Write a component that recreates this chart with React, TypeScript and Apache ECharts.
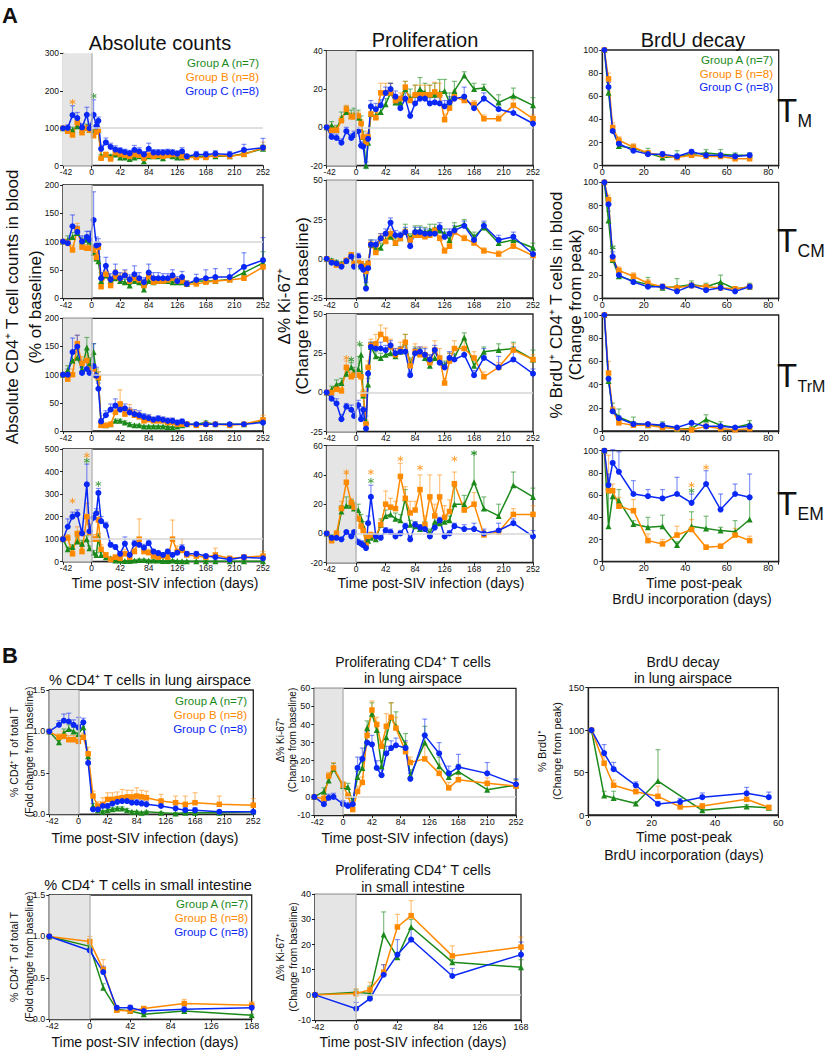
import React, { useEffect, useRef } from 'react';
import * as echarts from 'echarts';

// ---------- time points ----------
const daysCounts = [-42,-35,-28,-21,-14,-7,-3,3,7,10,14,21,28,35,42,49,56,63,70,77,84,91,98,105,112,119,126,133,140,154,168,182,203,224,252];
const daysProlif = [-42,-35,-28,-21,-14,-7,-3,3,7,10,14,17,21,28,35,42,49,56,63,70,77,84,91,98,105,112,119,126,133,140,154,168,182,203,224,252];
const daysBrdU = [1,3,5,8,15,22,29,36,43,50,57,64,71];
const daysLung = [-42,-28,-21,-14,-7,0,7,14,21,28,35,42,49,56,63,70,77,84,91,98,119,140,154,168,203,252];
const daysLungKi = [-42,-28,-21,-14,0,7,14,21,28,35,42,49,56,63,70,77,91,98,119,140,154,168,210,252];
const daysLungBrdU = [1,5,8,15,22,29,36,50,57];
const daysSI = [-42,0,14,28,42,56,98,168];

// ---------- A: absolute counts ----------
const cntTM_A = [100,98,95,105,95,103,95,90,100,95,25,30,25,30,22,22,18,22,25,12,25,25,25,20,28,25,22,22,25,25,25,25,25,32,45];
const cntTM_B = [100,92,82,115,88,100,95,80,90,95,20,30,18,35,30,28,25,30,28,20,28,25,28,25,28,30,30,25,22,22,22,28,25,30,48];
const cntTM_C = [100,101,135,127,102,136,100,136,105,120,45,62,50,43,40,36,33,42,38,30,45,35,35,35,36,35,32,38,25,30,30,32,30,42,48];
const cntTM_eA = [0,5,8,8,6,8,6,8,8,6,5,5,5,5,5,5,4,5,5,4,5,5,5,4,5,5,4,4,5,5,5,5,5,5,10];
const cntTM_eB = [0,8,8,10,8,8,8,10,8,8,5,5,5,8,6,6,5,6,6,5,6,6,5,5,5,6,6,5,4,5,5,8,5,6,15];
const cntTM_eC = [0,8,25,15,10,20,10,40,10,10,10,12,10,10,8,8,8,12,10,8,15,8,8,8,8,8,8,10,5,8,8,8,8,15,25];
const cntTM_stars = [[-28,170,1],[3,186,0]];

const cntCM_A = [100,102,108,115,100,103,100,80,70,65,30,40,30,35,30,28,22,30,28,15,30,28,30,30,30,28,28,28,25,30,30,30,33,45,62];
const cntCM_B = [100,98,85,122,90,88,88,85,72,90,20,42,22,38,35,40,30,35,32,22,38,28,30,30,32,35,30,30,25,25,28,30,32,35,55];
const cntCM_C = [100,97,127,117,100,108,103,138,93,95,35,57,33,45,35,40,33,42,35,28,45,35,35,35,35,40,30,37,25,32,35,37,37,55,67];
const cntCM_eA = [0,8,8,8,6,8,6,10,8,8,5,6,5,6,5,5,4,5,5,4,5,5,5,5,5,5,5,5,5,5,5,5,5,8,20];
const cntCM_eB = [0,6,8,10,8,6,6,8,8,8,5,8,5,12,8,8,6,8,6,5,8,6,6,6,6,6,6,6,5,5,5,6,6,6,8];
const cntCM_eC = [0,6,20,10,10,10,15,50,15,10,10,15,10,15,10,10,8,15,10,8,15,10,10,8,8,10,8,10,5,10,15,15,15,25,40];

const cntTrM_A = [100,108,125,130,110,148,120,140,100,95,12,10,12,18,18,15,12,10,10,8,8,8,8,8,7,6,8,10,12,12,15,12,12,12,18];
const cntTrM_B = [100,92,100,155,120,125,110,110,98,95,10,10,12,33,48,30,35,28,25,18,20,18,18,18,15,15,12,12,12,10,12,12,10,12,20];
const cntTrM_C = [100,100,140,150,103,110,103,115,98,75,17,28,38,45,38,40,33,30,28,25,23,20,22,20,18,18,15,17,12,12,12,12,12,12,15];
const cntTrM_eA = [0,8,15,15,10,18,10,15,10,10,3,3,3,3,3,3,3,2,2,2,2,2,2,2,2,2,2,2,3,3,3,3,3,3,4];
const cntTrM_eB = [0,8,10,15,12,10,10,10,10,10,3,3,3,8,25,10,12,8,8,6,8,6,6,6,5,6,4,5,4,3,3,3,3,3,8];
const cntTrM_eC = [0,10,25,20,10,15,10,40,15,10,5,8,10,12,10,8,8,8,8,6,6,5,5,5,5,5,4,4,3,3,3,3,3,3,5];

const cntEM_A = [100,55,65,90,80,100,60,40,30,110,30,20,15,5,5,3,3,5,8,8,5,5,5,3,3,5,3,2,2,2,2,2,2,2,2];
const cntEM_B = [100,105,35,125,45,200,130,100,100,185,55,30,10,20,15,35,20,45,100,45,40,25,20,25,20,100,45,50,30,25,20,30,15,20,25];
const cntEM_C = [100,155,200,210,125,343,135,195,215,305,180,160,75,65,35,80,30,80,75,62,82,45,38,30,45,30,40,60,35,35,25,20,10,20,15];
const cntEM_eA = [0,10,10,20,15,15,10,10,10,15,10,5,5,3,3,2,2,3,4,4,3,3,3,2,2,3,2,2,2,2,2,2,2,2,2];
const cntEM_eB = [0,15,10,30,25,60,40,20,20,40,20,10,5,10,5,20,10,15,90,20,15,10,10,10,10,85,25,50,15,10,10,30,8,10,20];
const cntEM_eC = [0,35,20,20,15,90,30,20,20,20,20,15,10,10,10,30,10,15,15,15,15,10,10,10,10,10,10,15,10,10,8,8,5,8,8];
const cntEM_stars = [[-28,270,1],[-7,472,1],[-7,448,0],[10,345,0]];

// ---------- A: proliferation ----------
const kiTM_A = [0,1,-1,5,8,6,6,5,3,-5,-20,-8,7,6,8,12,18,13,13,20,15,17,20,18,17,17,18,19,13,19,27,20,20.5,13,16.5,11.5];
const kiTM_B = [0,-1.5,-1.5,3.5,9.5,5.5,5.5,6,2,-5,-8,-5,7,5,18,18,18,14,15,21,14,17,17,17,17,18.5,17,4,10,16,14,12,4.5,4.5,11.5,4.5];
const kiTM_C = [0,-5,-5.5,-8,-2,-5.5,-4,-2,-9.5,-10,-22,-6,11,9.5,11.5,18,20,16,10,15,6,12.5,15,15,12.5,13,12.5,11,13,15,16,10,15,9.5,7.5,2];
const kiTM_eA = [0,2,2,3,3,3,4,4,3,3,2,3,3,3,3,3,5,3,3,4,5,5,6,5,5,6,7,6,5,5,2,3,2,4,4,4];
const kiTM_eB = [0,2,2,2,2,2,2,2,2,2,2,3,3,3,5,5,5,3,3,3,3,5,5,5,5,5,6,3,3,3,2,2,2,2,3,2];
const kiTM_eC = [0,2,2,2,2,2,2,2,2,2,2,3,3,3,3,3,3,3,2,3,2,3,3,3,3,3,3,3,3,3,5,3,3,3,3,3];

const kiCM_A = [0,-1,-2,-3,-1,2,-3,-1,-5,-4,-17,-4,9,6,7,12,14,10,13,18,13,18,18,17,18,19,18,16,12,20,22,14,20,10,12,7];
const kiCM_B = [0,-2,-4,-4,-1,2.5,-3,-1,-3,-5,-8,-3,9,4,13,11,16,10,13,17,12,15,15,14,15,18,13,5,8,17,13,10,5,3,8,2];
const kiCM_C = [0,-2.5,-3,-5,-1.5,1.5,-5,1.5,-5,-7,-19,-6,9,9,13,16,23,15,15,17,8,17,17,16,16,16,20,14,16,18,21,12,21,12,14,3];
const kiCM_eA = [0,1,1,1,1,2,1,1,1,1,2,2,3,3,3,3,3,3,3,4,3,3,3,3,4,3,3,3,3,3,3,3,3,3,3,3];
const kiCM_eB = [0,1,1,1,1,1,1,1,1,1,2,2,2,2,3,3,3,2,2,2,2,3,3,2,2,2,2,2,2,2,2,2,2,2,2,2];
const kiCM_eC = [0,1,1,1,1,1,1,2,1,1,1,2,3,3,3,3,3,3,2,3,2,3,3,3,3,3,3,3,3,3,3,3,3,3,3,3];

const kiTrM_A = [0,2,5,6,12,16,13,15,24,-2,-18,5,29,23,22,24,25,23,26,32,18,26,25,22,17,22,20,17,22,22,35,17,26,27,28,21];
const kiTrM_B = [0,0,2,1,16,10,11,11,10,-1,-20,16,30,31,37,34,29,24,27,32,17,26,24,24,19,27,22,6,20,28,28,22,10,16,27,21];
const kiTrM_C = [0,-4,-7,-17,-9,-11,-15,-8,-17,-11,-23,12,29,28,28,27,30,25,26,26,11,25,26,24,21,27,19,16,22,21,24,11,22,16,21,12];
const kiTrM_eA = [0,2,3,3,3,3,3,8,6,3,3,4,3,3,3,3,3,3,3,5,4,3,3,3,3,3,3,3,3,3,3,4,3,4,4,6];
const kiTrM_eB = [0,1,2,2,4,3,3,3,3,3,3,4,4,6,6,7,5,4,5,5,4,5,5,5,5,6,6,3,5,5,5,4,3,3,4,3];
const kiTrM_eC = [0,2,3,3,2,3,3,3,2,2,3,4,3,3,4,3,3,3,3,3,2,3,3,4,3,3,3,3,4,3,3,3,6,7,8,3];
const kiTrM_stars = [[-14,22,1],[-7,21,0],[5,31,0]];

const kiEM_A = [0,-3,-2,15,19,19,17,16,10,5,-7,-5,-3,-4,6,12,13,10,9,24,6,5,3,5,0,8,7,8,9,20,20,35,17,12,33,25];
const kiEM_B = [0,-5,0,17,35,21,18,10,5,2,-8,-2,-1,-2,6,20,18,17,39,24,14,16,30,6,25,12,25,11,15,34,16,20,-1,1,13,13];
const kiEM_C = [0,-3,-3,-4,1,-2,1,-6,-7,-8,-10,7,25,-2,-3,2,1,-2,0,5,-4,6,4,3,-2,4,9,-2,0,5,3,3,0,2,7,-2];
const kiEM_eA = [0,2,2,4,6,4,4,4,3,3,2,2,2,2,4,4,4,4,4,6,3,3,3,3,3,3,3,3,3,12,6,20,8,8,9,6];
const kiEM_eB = [0,2,2,5,6,3,3,3,3,3,2,2,2,2,3,9,6,5,9,8,8,6,10,6,15,8,15,8,8,8,5,8,3,2,4,6];
const kiEM_eC = [0,1,1,1,1,1,1,2,2,2,2,5,8,2,2,2,2,2,2,2,2,2,2,2,2,2,2,2,2,2,3,4,3,5,3,4];
const kiEM_stars = [[-14,42,1],[21,36,0],[21,42,1],[63,51,1],[91,45,1],[140,51,1],[168,55,0]];

// ---------- A: BrdU decay ----------
const brTM_A = [100,63,31,17,15,11,7,8,10,11,10,9,9];
const brTM_B = [100,75,33,22,16,11,9,7,9,8,8,6,6];
const brTM_C = [100,68,30,19,13,10,10,8,12,9,9,8,9];
const brTM_eA = [0,5,3,3,3,4,3,5,3,3,4,2,2];
const brTM_eB = [0,5,4,3,3,2,2,2,2,2,2,2,2];
const brTM_eC = [0,4,3,2,2,2,2,2,2,2,2,2,2];

const brCM_A = [100,67,33,19,15,12,9,10,12,10,14,8,10];
const brCM_B = [100,85,34,24,19,13,10,9,11,10,9,8,10];
const brCM_C = [100,81,36,20,14,10,10,6,11,7,9,6,10];
const brCM_eA = [0,8,10,3,3,6,3,7,3,3,6,2,3];
const brCM_eB = [0,4,3,3,3,3,2,2,2,2,2,2,2];
const brCM_eC = [0,3,4,2,2,2,2,2,2,2,2,2,2];
const brCM_stars = [[5,44,0]];

const brTrM_A = [100,43,18,12,7,5,5,2,2,10,5,3,6];
const brTrM_B = [100,50,18,7,5,5,3,2,1,4,2,1,2];
const brTrM_C = [100,45,17,11,6,6,5,3,7,4,4,3,4];
const brTrM_eA = [0,4,6,7,5,2,3,1,2,4,3,1,3];
const brTrM_eB = [0,10,3,2,2,1,1,1,1,1,1,1,1];
const brTrM_eC = [0,4,2,2,2,1,1,1,1,1,1,1,2];

const brEM_A = [100,32,59,55,34,31,32,15,32,30,28,27,38];
const brEM_B = [100,64,64,50,46,19,16,24,29,13,14,24,19];
const brEM_C = [100,69,89,81,61,59,57,61,53,70,47,61,58];
const brEM_eA = [0,30,6,10,3,9,10,3,13,11,3,10,20];
const brEM_eB = [0,32,6,8,10,6,4,8,9,2,1,6,4];
const brEM_eC = [0,10,12,18,12,6,8,15,8,12,14,9,21];
const brEM_stars = [[43,69,1],[43,64,0],[50,85,1]];

// ---------- B: lung airspace / small intestine ----------
const lung_A = [1.0,0.87,0.98,1.03,1.0,0.97,1.05,0.7,0.1,0.05,0.03,0.05,0.06,0.07,0.07,0.05,0.03,0.03,0.02,0.03,0.02,0.01,0.02,0.02,0.02,0.03];
const lung_B = [1.0,0.93,0.94,0.9,0.9,0.88,0.93,0.73,0.22,0.1,0.12,0.18,0.18,0.19,0.2,0.21,0.21,0.22,0.21,0.2,0.16,0.14,0.12,0.14,0.12,0.11];
const lung_C = [1.0,1.08,1.13,1.12,1.08,1.05,1.11,0.62,0.06,0.06,0.1,0.1,0.13,0.15,0.16,0.16,0.14,0.14,0.13,0.12,0.1,0.07,0.05,0.05,0.03,0.03];
const lung_eA = [0,0.04,0.05,0.05,0.05,0.05,0.05,0.05,0.03,0.02,0.02,0.02,0.02,0.02,0.02,0.02,0.01,0.01,0.01,0.01,0.01,0.01,0.01,0.01,0.01,0.01];
const lung_eB = [0,0.04,0.06,0.05,0.05,0.05,0.05,0.08,0.06,0.05,0.08,0.08,0.08,0.08,0.1,0.08,0.08,0.1,0.08,0.08,0.08,0.08,0.1,0.12,0.1,0.08];
const lung_eC = [0,0.05,0.08,0.1,0.06,0.12,0.05,0.05,0.02,0.02,0.02,0.03,0.03,0.03,0.04,0.04,0.04,0.04,0.04,0.04,0.03,0.03,0.03,0.03,0.02,0.02];

const lungKi_A = [0,3,9,15.5,6,5.5,-3,11,16,38,46,37,17,33,44,39,29,12,30,17,11,14,4,6.5];
const lungKi_B = [0,-1,11.5,16,6.5,0.5,-7,3,8,34,48,40,28,39,44,38,25,19,21,13,5,9.5,7.5,6];
const lungKi_C = [0,-4,-0.5,0,-4,-5,-4,16,21,30,29,16,12,24,27,28.5,27,10,34,24,13,16.5,13,7];
const lungKi_eA = [0,2,2,3,2,2,2,3,3,4,6,4,3,5,8,8,6,3,9,5,3,4,4,3];
const lungKi_eB = [0,2,2,3,2,2,2,3,3,4,5,4,3,7,8,6,5,3,8,5,3,3,3,3];
const lungKi_eC = [0,2,2,2,2,2,2,6,6,6,5,4,3,4,4,4,4,3,9,6,4,7,6,3];

const lungBr_A = [100,23,20,13.5,40,null,5.5,10,8.5];
const lungBr_B = [100,61,35,27.5,22,9.5,10.5,18.5,9];
const lungBr_C = [100,73,54,35,13,15.5,21,25.5,21];
const lungBr_eA = [0,5,8,2,37,0,2,2,2];
const lungBr_eB = [0,8,6,3,12,2,3,5,2];
const lungBr_eC = [0,10,8,4,3,4,5,7,6];

const si_A = [1.0,0.88,0.38,0.12,0.1,0.06,0.1,0.05];
const si_B = [1.0,0.94,0.6,0.11,0.1,0.13,0.19,0.17];
const si_C = [1.0,0.83,0.57,0.14,0.14,0.1,0.12,0.14];
const si_eA = [0,0.02,0.05,0.02,0.02,0.01,0.02,0.01];
const si_eB = [0,0.06,0.12,0.02,0.02,0.02,0.05,0.04];
const si_eC = [0,0.02,0.07,0.02,0.03,0.02,0.03,0.03];

const siKi_A = [0,1,0.5,24,15,27,13,11];
const siKi_B = [0,0.5,2,9,27,31.5,15.5,19];
const siKi_C = [0,-5.5,-1.5,8,16,22,7.5,16];
const siKi_eA = [0,1,3,9,1,3,1,3];
const siKi_eB = [0,2,3,3,5,6,4,4];
const siKi_eC = [0,2.5,1,4,6,4,3,5];

// ---------- styling ----------
const FONT = "'Liberation Sans', Arial, Helvetica, sans-serif";
const COL = ['#1b8a1b', '#ff8a00', '#0a28f5'];
const ERRCOL = ['rgba(27,138,27,0.55)', 'rgba(255,138,0,0.5)', 'rgba(10,40,245,0.5)'];
const SYM = ['triangle', 'rect', 'circle'];
const SYMSIZE = [6, 5.5, 6];
const ASTERISK = 'path://M-0.15,-1L0.15,-1L0.15,1L-0.15,1Z M0.791,-0.63L0.941,-0.37L-0.791,0.63L-0.941,0.37Z M-0.941,-0.37L-0.791,-0.63L0.941,0.37L0.791,0.63Z';

const fmt1 = (v: number) => v.toFixed(1);
const fmtMax80 = (v: number) => (v <= 80 ? String(v) : '');

function panel(l, t, w, h, x, vals, errs, xr, yr, opts: any = {}) {
  return { l, t, w, h, x, vals, errs, xr, yr, ...opts };
}

const SI_X = [-42, 168, 42];
const A_X = [-42, 252, 42];
const BR_X = [0, 85, 20];

const PANELS = [
  panel(63, 53.3, 200, 112.4, daysCounts, [cntTM_A, cntTM_B, cntTM_C], [cntTM_eA, cntTM_eB, cntTM_eC], A_X, [0, 300, 100], { shade: true, refY: 100, frame: false, stars: cntTM_stars, fs: 8.5 }),
  panel(63, 185, 200, 113, daysCounts, [cntCM_A, cntCM_B, cntCM_C], [cntCM_eA, cntCM_eB, cntCM_eC], A_X, [0, 200, 50], { shade: true, refY: 100, frame: true, fs: 8.5 }),
  panel(63, 318.3, 200, 112.7, daysCounts, [cntTrM_A, cntTrM_B, cntTrM_C], [cntTrM_eA, cntTrM_eB, cntTrM_eC], A_X, [0, 200, 50], { shade: true, refY: 100, frame: true, fs: 8.5 }),
  panel(63, 449, 200, 112.7, daysCounts, [cntEM_A, cntEM_B, cntEM_C], [cntEM_eA, cntEM_eB, cntEM_eC], A_X, [0, 500, 100], { shade: true, refY: 100, frame: true, stars: cntEM_stars, fs: 8.5 }),

  panel(326.7, 50.7, 206.3, 115, daysProlif, [kiTM_A, kiTM_B, kiTM_C], [kiTM_eA, kiTM_eB, kiTM_eC], A_X, [-20, 40, 20], { shade: true, refY: 0, frame: true, fs: 8.5 }),
  panel(326.7, 180.3, 206.3, 117.7, daysProlif, [kiCM_A, kiCM_B, kiCM_C], [kiCM_eA, kiCM_eB, kiCM_eC], A_X, [-25, 50, 25], { shade: true, refY: 0, frame: true, fs: 8.5 }),
  panel(326.7, 314, 206.3, 117.7, daysProlif, [kiTrM_A, kiTrM_B, kiTrM_C], [kiTrM_eA, kiTrM_eB, kiTrM_eC], A_X, [-25, 50, 25], { shade: true, refY: 0, frame: true, stars: kiTrM_stars, fs: 8.5 }),
  panel(326.7, 445.7, 206.3, 117, daysProlif, [kiEM_A, kiEM_B, kiEM_C], [kiEM_eA, kiEM_eB, kiEM_eC], A_X, [-20, 60, 20], { shade: true, refY: 0, frame: true, stars: kiEM_stars, fs: 8.5 }),

  panel(602.3, 50, 176.4, 115.7, daysBrdU, [brTM_A, brTM_B, brTM_C], [brTM_eA, brTM_eB, brTM_eC], BR_X, [0, 100, 20], { frame: true, fs: 9, xf: fmtMax80 }),
  panel(602.3, 182.3, 176.4, 116, daysBrdU, [brCM_A, brCM_B, brCM_C], [brCM_eA, brCM_eB, brCM_eC], BR_X, [0, 100, 20], { frame: true, stars: brCM_stars, fs: 9, xf: fmtMax80 }),
  panel(602.3, 315, 176.4, 116, daysBrdU, [brTrM_A, brTrM_B, brTrM_C], [brTrM_eA, brTrM_eB, brTrM_eC], BR_X, [0, 100, 20], { frame: true, fs: 9, xf: fmtMax80 }),
  panel(602.3, 450.7, 176.4, 111, daysBrdU, [brEM_A, brEM_B, brEM_C], [brEM_eA, brEM_eB, brEM_eC], BR_X, [0, 100, 20], { frame: true, stars: brEM_stars, fs: 9, xf: fmtMax80 }),

  panel(49.3, 690, 204, 124.3, daysLung, [lung_A, lung_B, lung_C], [lung_eA, lung_eB, lung_eC], A_X, [0, 1.5, 0.5], { shade: true, frame: true, fs: 9, yf: fmt1 }),
  panel(314.3, 688.3, 201.7, 126.7, daysLungKi, [lungKi_A, lungKi_B, lungKi_C], [lungKi_eA, lungKi_eB, lungKi_eC], A_X, [-10, 60, 10], { shade: true, refY: 0, frame: true, fs: 9 }),
  panel(588.3, 687.7, 190, 127.3, daysLungBrdU, [lungBr_A, lungBr_B, lungBr_C], [lungBr_eA, lungBr_eB, lungBr_eC], [0, 60, 20], [0, 150, 50], { frame: true, fs: 9.5 }),
  panel(49.3, 895, 202.4, 124.3, daysSI, [si_A, si_B, si_C], [si_eA, si_eB, si_eC], SI_X, [0, 1.5, 0.5], { shade: true, frame: true, fs: 9, yf: fmt1 }),
  panel(315, 894.3, 206, 125.7, daysSI, [siKi_A, siKi_B, siKi_C], [siKi_eA, siKi_eB, siKi_eC], SI_X, [-10, 40, 10], { shade: true, refY: 0, frame: true, fs: 9 }),
];

// ---------- text ----------
function txt(text: string, x: number, y: number, size: number, o: any = {}) {
  return {
    type: 'text', x, y, rotation: o.rot || 0, z: 100, silent: true,
    style: {
      text, fill: o.color || '#111', fontSize: size, fontFamily: FONT,
      fontWeight: o.weight || 'normal', align: o.align || 'center', verticalAlign: 'middle',
    },
  };
}
const R = Math.PI / 2;
const LEGEND = ['Group A (n=7)', 'Group B (n=8)', 'Group C (n=8)'];
function legend(xr: number, ys: number[], size: number) {
  return LEGEND.map((s, i) => txt(s, xr, ys[i], size, { color: COL[i], align: 'right' }));
}
function tLabel(sub: string, yc: number, subSize: number) {
  return [txt('T', 777, yc, 33, { align: 'left' }), txt(sub, 797.5, yc + 11, subSize, { align: 'left' })];
}

const TEXTS = [
  txt('A', 10, 15, 22, { weight: 'bold' }),
  txt('B', 10, 655, 22, { weight: 'bold' }),
  txt('Absolute counts', 160, 43, 20),
  txt('Proliferation', 425, 40, 20),
  txt('BrdU decay', 693, 40, 20),
  ...legend(259, [62.7, 77.3, 90.7], 11.5),
  ...legend(773, [60, 73.5, 87], 11.5),
  ...tLabel('M', 110, 17.5),
  ...tLabel('CM', 240, 17.5),
  ...tLabel('TrM', 375, 16),
  ...tLabel('EM', 503, 17.5),
  txt('Absolute CD4⁺ T cell counts in blood', 12, 307, 17, { rot: R }),
  txt('(% of baseline)', 35, 307, 17, { rot: R }),
  txt('Δ% Ki-67⁺', 284, 306, 17, { rot: R }),
  txt('(Change from baseline)', 302.5, 306, 17, { rot: R }),
  txt('% BrdU⁺ CD4⁺ T cells in blood', 556, 305, 17, { rot: R }),
  txt('(Change from peak)', 575.5, 305, 17, { rot: R }),
  txt('Time post-SIV infection (days)', 165, 583, 14),
  txt('Time post-SIV infection (days)', 431, 583, 14),
  txt('Time post-peak', 694, 583, 14),
  txt('BrdU incorporation (days)', 692, 599, 14),

  txt('% CD4⁺ T cells in lung airspace', 150, 680, 14.5),
  txt('Proliferating CD4⁺ T cells', 413, 662, 14),
  txt('in lung airspace', 413, 678, 14),
  txt('BrdU decay', 683, 662, 14),
  txt('in lung airspace', 683, 678, 14),
  ...legend(247, [701, 715, 729], 11.5),
  txt('% CD4⁺ T of total T', 14, 752, 10.5, { rot: R }),
  txt('(Fold change from baseline)', 29, 752, 10.5, { rot: R }),
  txt('Δ% Ki-67⁺', 280, 740, 10, { rot: R }),
  txt('(Change from baseline)', 292, 740, 10, { rot: R }),
  txt('% BrdU⁺', 542, 751, 11, { rot: R }),
  txt('(Change from peak)', 557, 751, 11, { rot: R }),
  txt('Time post-SIV infection (days)', 145, 838, 14),
  txt('Time post-SIV infection (days)', 415, 838, 14),
  txt('Time post-peak', 684, 837, 14),
  txt('BrdU incorporation (days)', 684, 855, 14),

  txt('% CD4⁺ T cells in small intestine', 148, 885, 14.5),
  txt('Proliferating CD4⁺ T cells', 413, 870, 14),
  txt('in small intestine', 413, 887, 14),
  ...legend(248, [904, 918, 932], 11.5),
  txt('% CD4⁺ T of total T', 14, 957, 10.5, { rot: R }),
  txt('(Fold change from baseline)', 29, 957, 10.5, { rot: R }),
  txt('Δ% Ki-67⁺', 280, 957, 10.5, { rot: R }),
  txt('(Change from baseline)', 292.5, 957, 10.5, { rot: R }),
  txt('Time post-SIV infection (days)', 145, 1042, 14),
  txt('Time post-SIV infection (days)', 413, 1042, 14),
];

function buildOption() {
  const grid: any[] = [], xAxis: any[] = [], yAxis: any[] = [], series: any[] = [];
  const axisCommon = (fs: number) => ({
    axisLine: { show: true, onZero: false, lineStyle: { color: '#222', width: 1.3 } },
    axisTick: { show: true, length: 3, lineStyle: { color: '#222', width: 1 } },
    splitLine: { show: false },
    axisLabel: { fontSize: fs, color: '#111', fontFamily: FONT, margin: 2 },
  });
  PANELS.forEach((p: any, i: number) => {
    grid.push({ left: p.l, top: p.t, width: p.w, height: p.h, show: !!p.frame, borderColor: '#222', borderWidth: 1.3, backgroundColor: 'rgba(0,0,0,0)' });
    const xc: any = axisCommon(p.fs);
    const xMin = p.xr[0];
    if (xMin < 0) {
      // nudge the leftmost (negative) x label so it clears the y-axis minimum label
      xc.axisLabel.formatter = (v: number) => (v === xMin ? `{m|${v}}` : String(v));
      xc.axisLabel.rich = { m: { padding: [0, 0, 0, 6], fontSize: p.fs, color: '#111', fontFamily: FONT } };
    } else if (p.xf) {
      xc.axisLabel.formatter = p.xf;
    }
    xAxis.push({ type: 'value', gridIndex: i, min: p.xr[0], max: p.xr[1], interval: p.xr[2], ...xc });
    const yc: any = axisCommon(p.fs);
    yc.axisLabel.margin = 4;
    if (p.yf) yc.axisLabel.formatter = p.yf;
    yAxis.push({ type: 'value', gridIndex: i, min: p.yr[0], max: p.yr[1], interval: p.yr[2], ...yc });

    const mlData: any[] = [];
    if (p.shade) mlData.push({ xAxis: 0, lineStyle: { color: '#b8b8b8', width: 1.5, type: 'solid' } });
    if (p.refY !== undefined) mlData.push([{ coord: [0, p.refY], lineStyle: { color: '#d6d6d6', width: 1.5, type: 'solid' } }, { coord: [p.xr[1], p.refY] }]);
    series.push({
      type: 'line', xAxisIndex: i, yAxisIndex: i, data: [], z: 1, silent: true,
      markArea: p.shade ? { silent: true, itemStyle: { color: '#e5e5e5' }, data: [[{ xAxis: p.xr[0] }, { xAxis: 0 }]] } : undefined,
      markLine: mlData.length ? { silent: true, symbol: ['none', 'none'], label: { show: false }, data: mlData } : undefined,
    });

    [0, 1, 2].forEach((g) => {
      const vals = p.vals[g], errs = p.errs[g];
      series.push({
        type: 'custom', xAxisIndex: i, yAxisIndex: i, z: 2, silent: true,
        encode: { x: 0, y: 1 },
        data: p.x.map((d: number, k: number) => [d, vals[k], errs[k]]).filter((r: any) => r[1] !== null && r[2] > 0),
        renderItem: (params: any, api: any) => {
          const x = api.value(0), y = api.value(1), e = api.value(2);
          const a = api.coord([x, y]), b = api.coord([x, y + e]);
          const st = { stroke: ERRCOL[g], lineWidth: 1.2 };
          return {
            type: 'group', children: [
              { type: 'line', shape: { x1: a[0], y1: a[1], x2: b[0], y2: b[1] }, style: st },
              { type: 'line', shape: { x1: b[0] - 2.5, y1: b[1], x2: b[0] + 2.5, y2: b[1] }, style: st },
            ],
          };
        },
      });
    });
    [0, 1, 2].forEach((g) => {
      const vals = p.vals[g];
      series.push({
        type: 'line', xAxisIndex: i, yAxisIndex: i, z: 3, silent: true,
        data: p.x.map((d: number, k: number) => [d, vals[k]]),
        connectNulls: true, symbol: SYM[g], symbolSize: SYMSIZE[g], showAllSymbol: true,
        lineStyle: { color: COL[g], width: 1.5 }, itemStyle: { color: COL[g] },
      });
    });
    if (p.stars) {
      [0, 1, 2].forEach((g) => {
        const pts = p.stars.filter((s: number[]) => s[2] === g).map((s: number[]) => [s[0], s[1]]);
        if (!pts.length) return;
        series.push({
          type: 'scatter', xAxisIndex: i, yAxisIndex: i, z: 4, silent: true,
          data: pts, symbol: ASTERISK, symbolSize: 6, itemStyle: { color: COL[g] },
        });
      });
    }
  });
  return { animation: false, backgroundColor: '#fff', grid, xAxis, yAxis, series, graphic: { elements: TEXTS } };
}

export default function App() {
  const ref = useRef<HTMLDivElement>(null);
  useEffect(() => {
    const chart = echarts.init(ref.current as HTMLDivElement, null, { renderer: 'svg' });
    chart.setOption(buildOption() as any);
    return () => chart.dispose();
  }, []);
  return <div ref={ref} style={{ position: 'absolute', left: 0, top: 0, width: 826, height: 1050, background: '#fff' }} />;
}
